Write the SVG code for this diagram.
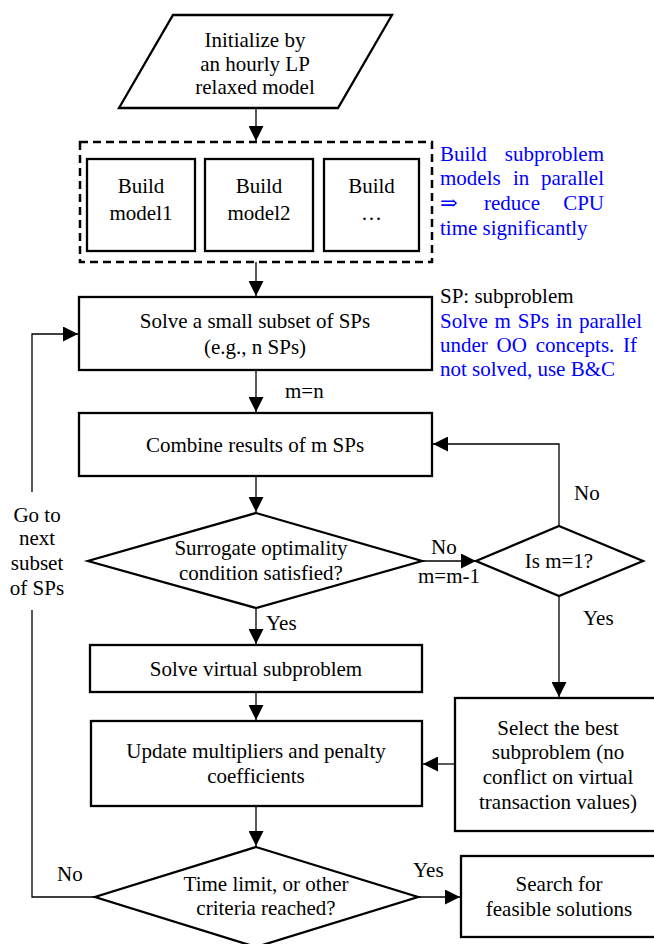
<svg xmlns="http://www.w3.org/2000/svg" width="654" height="944" viewBox="0 0 654 944" font-family="'Liberation Serif', 'DejaVu Serif', serif">
<style>
text{font-family:'Liberation Serif','DejaVu Serif',serif;font-size:21px;fill:#000}
.c{text-anchor:middle}
.e{text-anchor:end}
.b{fill:#0000ff}
.box{fill:#fff;stroke:#000;stroke-width:2.3}
.dash{fill:none;stroke:#000;stroke-width:2.5;stroke-dasharray:8,5}
.ln{fill:none;stroke:#000;stroke-width:1.3}
</style>
<defs>
<marker id="ah" markerUnits="userSpaceOnUse" markerWidth="15" markerHeight="15" refX="15" refY="7.5" orient="auto">
<path d="M0,0 L15,7.5 L0,15 z" fill="#000"/>
</marker>
</defs>
<rect width="654" height="944" fill="#fff"/>
<g id="connectors">
<path class="ln" d="M256,108 V141" marker-end="url(#ah)"/>
<path class="ln" d="M256,262 V296" marker-end="url(#ah)"/>
<path class="ln" d="M256,370 V412" marker-end="url(#ah)"/>
<path class="ln" d="M256,476 V512" marker-end="url(#ah)"/>
<path class="ln" d="M422,561 H476" marker-end="url(#ah)"/>
<path class="ln" d="M559,526 V444 H433" marker-end="url(#ah)"/>
<path class="ln" d="M559,596 V697" marker-end="url(#ah)"/>
<path class="ln" d="M256,608 V644" marker-end="url(#ah)"/>
<path class="ln" d="M256,692 V720" marker-end="url(#ah)"/>
<path class="ln" d="M455,764 H423" marker-end="url(#ah)"/>
<path class="ln" d="M256,806 V846" marker-end="url(#ah)"/>
<path class="ln" d="M418,897 H460" marker-end="url(#ah)"/>
<path class="ln" d="M95,897 H32 V610"/>
<path class="ln" d="M32,492 V334 H78" marker-end="url(#ah)"/>
<text x="285" y="398">m=n</text>
<text x="431" y="554">No</text>
<text x="418" y="583">m=m-1</text>
<text x="574" y="500">No</text>
<text x="583" y="625">Yes</text>
<text x="266" y="630">Yes</text>
<text x="413" y="877">Yes</text>
<text x="57" y="881">No</text>
<text class="c" x="37" y="522">Go to</text>
<text class="c" x="37" y="545">next</text>
<text class="c" x="37" y="570">subset</text>
<text class="c" x="37" y="595">of SPs</text>
</g>
<g id="init">
<polygon class="box" points="173,15 392,15 338,108 119,108"/>
<text class="c" x="255" y="47">Initialize by</text>
<text class="c" x="255" y="71">an hourly LP</text>
<text class="c" x="255" y="94">relaxed model</text>
</g>
<g id="parallel">
<rect class="dash" x="80" y="142" width="352" height="120"/>
</g>
<g id="build1">
<rect class="box" x="87" y="159" width="108" height="92"/>
<text class="c" x="141" y="193">Build</text>
<text class="c" x="141" y="220">model1</text>
</g>
<g id="build2">
<rect class="box" x="205" y="159" width="108" height="92"/>
<text class="c" x="259" y="193">Build</text>
<text class="c" x="259" y="220">model2</text>
</g>
<g id="build3">
<rect class="box" x="324" y="159" width="95" height="92"/>
<text class="c" x="371.5" y="193">Build</text>
<text class="c" x="371.5" y="220">…</text>
</g>
<g id="note1">
<text class="b" x="440" y="161">Build</text>
<text class="b e" x="604" y="161">subproblem</text>
<text class="b" x="440" y="185">models</text>
<text class="b" x="513" y="185">in</text>
<text class="b e" x="604" y="185">parallel</text>
<text class="b" x="440" y="210">⇒</text>
<text class="b" x="484" y="210">reduce</text>
<text class="b e" x="604" y="210">CPU</text>
<text class="b" x="440" y="235">time significantly</text>
</g>
<g id="note2">
<text x="440" y="303">SP: subproblem</text>
<text class="b" x="440" y="328" word-spacing="1.5">Solve m SPs in parallel</text>
<text class="b" x="440" y="352" word-spacing="3.5">under OO concepts. If</text>
<text class="b" x="440" y="376">not solved, use B&amp;C</text>
</g>
<g id="solve">
<rect class="box" x="79" y="297" width="353" height="73"/>
<text class="c" x="255" y="328">Solve a small subset of SPs</text>
<text class="c" x="255" y="354">(e.g., n SPs)</text>
</g>
<g id="combine">
<rect class="box" x="79" y="413" width="353" height="63"/>
<text class="c" x="255" y="452">Combine results of m SPs</text>
</g>
<g id="surrogate">
<polygon class="box" points="256,513 422,561 256,608 88,561"/>
<text class="c" x="261" y="555">Surrogate optimality</text>
<text class="c" x="261" y="580">condition satisfied?</text>
</g>
<g id="ism1">
<polygon class="box" points="559,526 643,561 559,596 476,561"/>
<text class="c" x="559" y="568">Is m=1?</text>
</g>
<g id="virtual">
<rect class="box" x="90" y="645" width="332" height="47"/>
<text class="c" x="256" y="676">Solve virtual subproblem</text>
</g>
<g id="update">
<rect class="box" x="91" y="721" width="331" height="85"/>
<text class="c" x="256" y="758">Update multipliers and penalty</text>
<text class="c" x="256" y="783">coefficients</text>
</g>
<g id="select">
<rect class="box" x="455" y="698" width="205" height="133"/>
<text class="c" x="558" y="735">Select the best</text>
<text class="c" x="558" y="759">subproblem (no</text>
<text class="c" x="558" y="784">conflict on virtual</text>
<text class="c" x="558" y="809">transaction values)</text>
</g>
<g id="timelimit">
<polygon class="box" points="256,847 418,897 256,947 95,897"/>
<text class="c" x="266" y="891">Time limit, or other</text>
<text class="c" x="266" y="915">criteria reached?</text>
</g>
<g id="search">
<rect class="box" x="461" y="856" width="199" height="81"/>
<text class="c" x="559" y="891">Search for</text>
<text class="c" x="559" y="916">feasible solutions</text>
</g>
</svg>
